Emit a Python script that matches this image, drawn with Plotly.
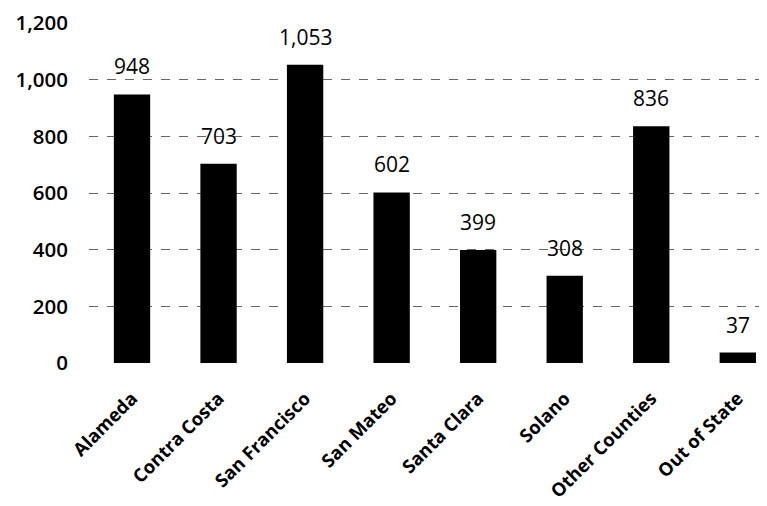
import plotly.graph_objects as go

# counts by county
counties = ['Alameda', 'Contra Costa', 'San Francisco', 'San Mateo',
            'Santa Clara', 'Solano', 'Other Counties', 'Out of State']
counts = [948, 703, 1053, 602, 399, 308, 836, 37]
y_ticks = [0, 200, 400, 600, 800, 1000, 1200]

fig = go.Figure()
fig.add_trace(go.Bar(
    x=counties, y=counts,
    marker_color='black', marker_line_width=0,
    width=0.42,
))

# value labels sit a bit above each bar
for c, v in zip(counties, counts):
    fig.add_annotation(x=c, y=v, text=f'{v:,}', showarrow=False,
                       yanchor='bottom', yshift=12,
                       font=dict(size=21, color='black'))

fig.update_layout(
    width=767, height=506,
    margin=dict(l=81, r=0, t=15, b=151, autoexpand=False),
    paper_bgcolor='white', plot_bgcolor='white',
    font=dict(family='Open Sans', color='black'),
    showlegend=False,
)
fig.update_xaxes(
    range=[-0.497, 7.43], tickangle=-45, automargin=False,
    tickfont=dict(size=18.5, weight='bold'), showgrid=False, ticks='',
    ticklabelstandoff=20,
)
fig.update_yaxes(
    range=[0, 1200], tickvals=y_ticks, tickformat=',', automargin=False,
    tickfont=dict(size=20.5, weight=600), ticklabelstandoff=20,
    ticklabeloverflow='allow',
    showgrid=True, gridcolor='#666', griddash='dash', gridwidth=1,
    zeroline=False,
)

fig.write_html('out.html')
